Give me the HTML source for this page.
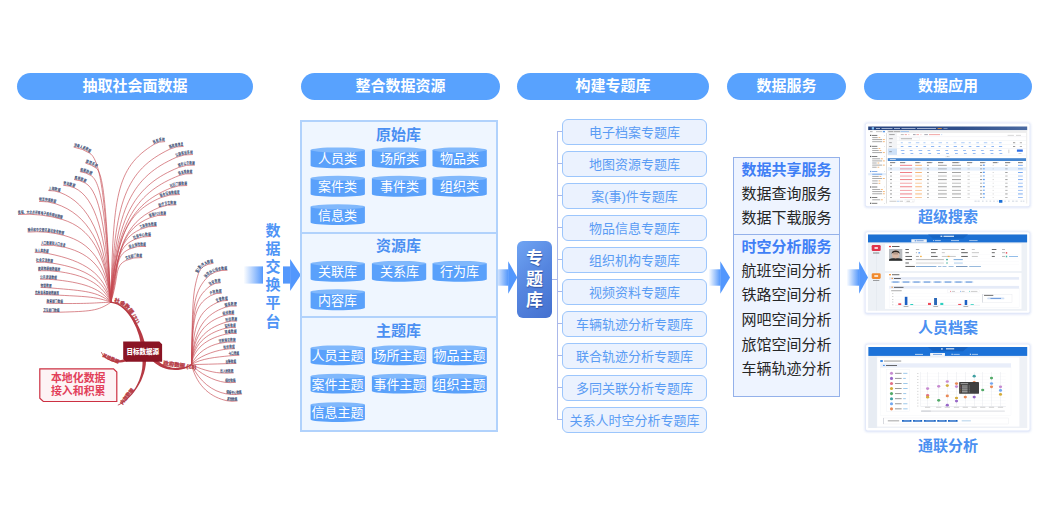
<!DOCTYPE html><html lang="zh-CN"><head><meta charset="utf-8"><title>数据流程</title><style>
*{margin:0;padding:0;box-sizing:border-box}
html,body{width:1043px;height:526px;background:#fff;overflow:hidden}
body{position:relative;font-family:"Liberation Sans", "Noto Sans CJK SC", sans-serif;}
.abs{position:absolute}
.pill{position:absolute;top:73px;height:27px;border-radius:14px;background:#58a2fe;color:#fff;font-weight:700;font-size:15px;line-height:26px;text-align:center;white-space:nowrap}
.box2{position:absolute;left:300px;top:120px;width:198px;height:312px;background:#eff6ff;border:2px solid #b1d2fc}
.div2{position:absolute;left:302px;width:194px;height:2px;background:#b1d2fc}
.t2{position:absolute;left:301px;width:195px;text-align:center;color:#4b8ff2;font-weight:700;font-size:15px;line-height:18px;white-space:nowrap}
.cyl{position:absolute;width:55px;height:21px;color:#fff;font-size:13px;line-height:21px;text-align:center;white-space:nowrap}
.cyl span{position:relative;top:0.5px}
.topic{position:absolute;left:562px;width:145px;height:26px;border:1px solid #9cc6fc;border-radius:6px;background:#ebf2fe;color:#5a9cf4;font-size:13px;line-height:25px;text-align:center;white-space:nowrap}
.stub{position:absolute;left:557px;width:5px;height:1px;background:#aab8ea}
.zt{position:absolute;left:517px;top:240.5px;width:35px;height:77.5px;border-radius:6px;background:linear-gradient(135deg,#6fa4f3 0%,#5585df 50%,#4470cf 100%);color:#fff;font-weight:700;font-size:17px;line-height:21px;text-align:center;padding-top:7px;text-shadow:0.5px 1px 1px rgba(20,40,110,.55)}
.svc{position:absolute;left:733px;top:157px;width:107px;height:240px;background:#eef4ff;border:1px solid #94b1ea}
.svcl{position:absolute;left:734px;width:105px;height:1px;background:#94b1ea}
.sv{position:absolute;left:734px;width:105px;text-align:center;font-size:15px;line-height:20px;color:#262626;white-space:nowrap}
.sv.b{color:#3f7ff6;font-weight:700}
.cap{position:absolute;left:864px;width:168px;text-align:center;color:#4b90f1;font-weight:700;font-size:15px;line-height:18px;white-space:nowrap}
.vt{position:absolute;left:263.3px;top:219.5px;width:19.4px;background:#fff;color:#4f95f6;font-weight:700;font-size:15px;line-height:18.2px;text-align:center;padding:2px 0}
svg{display:block}
</style></head><body>
<svg class="abs" style="left:0;top:0" width="1043" height="526" viewBox="0 0 1043 526"><defs></defs>
<linearGradient id="ga" gradientUnits="userSpaceOnUse" x1="243.5" y1="0" x2="263" y2="0"><stop offset="0" stop-color="#5a9bfb" stop-opacity="0"/><stop offset="1" stop-color="#5498fc" stop-opacity="1"/></linearGradient><rect x="243.5" y="266.4" width="46.90000000000002" height="17.2" fill="url(#ga)"/><polygon points="290.1,259 300.8,275 290.1,291" fill="#5297fd"/>
<linearGradient id="gb" gradientUnits="userSpaceOnUse" x1="494" y1="0" x2="508.2" y2="0"><stop offset="0" stop-color="#5a9bfb" stop-opacity="0"/><stop offset="1" stop-color="#5498fc" stop-opacity="1"/></linearGradient><rect x="494" y="269.3" width="14.49999999999999" height="16.4" fill="url(#gb)"/><polygon points="508.2,261.2 517.3,277.5 508.2,293.8" fill="#5297fd"/>
<linearGradient id="gc" gradientUnits="userSpaceOnUse" x1="708.5" y1="0" x2="720.3" y2="0"><stop offset="0" stop-color="#5a9bfb" stop-opacity="0"/><stop offset="1" stop-color="#5498fc" stop-opacity="1"/></linearGradient><rect x="708.5" y="269.3" width="12.099999999999955" height="16.4" fill="url(#gc)"/><polygon points="720.3,261.2 730,277.5 720.3,293.8" fill="#5297fd"/>
</svg>
<svg class="abs" style="left:0;top:0" width="300" height="440" viewBox="0 0 300 440"><defs><path id="m1" d="M73.6 147.1Q82.6 148.5 89.9 153.3"/><path id="m2" d="M85.4 163.1Q91.5 164.6 96.3 168.2"/><path id="m3" d="M79.9 171.6Q86.1 172.5 91.1 175.6"/><path id="m4" d="M74.1 179.5Q80.3 180.2 85.4 183.1"/><path id="m5" d="M63.3 185.3Q69.3 185.5 74.5 187.9"/><path id="m6" d="M48.4 190.5Q54.4 190.4 59.9 192.4"/><path id="m7" d="M39 201.4Q47.8 201.1 55.8 203.8"/><path id="m8" d="M18.1 214.5Q41.3 213 62.7 219.6"/><path id="m9" d="M27.7 232.1Q46.4 230.6 63.9 235.4"/><path id="m10" d="M40.9 245.2Q53.4 244.4 65.3 247.4"/><path id="m11" d="M34.7 252.5Q41.7 252.3 48.4 253.6"/><path id="m12" d="M36.1 262.3Q44.6 261.8 52.9 263.2"/><path id="m13" d="M38 270.7Q49.3 270.2 60.3 271.8"/><path id="m14" d="M40.1 279.2Q48.5 279 56.9 279.9"/><path id="m15" d="M40.6 287.5Q46.1 287.5 51.6 288"/><path id="m16" d="M34.9 294.5Q47.1 294.6 59.3 295.2"/><path id="m17" d="M46.4 303.2Q54.7 303.4 63.1 303.5"/><path id="m18" d="M43 312Q51.4 312.4 59.8 312.2"/><path id="m19" d="M154.1 144.3Q158.9 141.3 165.1 141.6"/><path id="m20" d="M169.9 149.1Q176.2 146.1 183.6 146.4"/><path id="m21" d="M176.2 157.4Q184 154 192.9 154.5"/><path id="m22" d="M178.6 167.5Q186.2 164.4 194.9 165.1"/><path id="m23" d="M179 175.6Q185.3 173.1 192.5 173.7"/><path id="m24" d="M170.6 188.1Q178.4 184.9 187.2 185.5"/><path id="m25" d="M160.7 197.7Q169.6 193.9 179.9 194.5"/><path id="m26" d="M159.1 207.5Q167.2 204.2 176.4 204.8"/><path id="m27" d="M149.8 217.8Q157.4 214.6 166.1 215.2"/><path id="m28" d="M140.4 229.3Q148 225.8 156.8 226.2"/><path id="m29" d="M134 239.7Q141.9 235.9 151.1 236.4"/><path id="m30" d="M129.5 249Q137.2 245.5 146.1 246.4"/><path id="m31" d="M126.1 260.4Q133.6 256.9 142.3 257.6"/><path id="m32" d="M198.5 273.2Q201.2 264.6 213.6 263.2"/><path id="m33" d="M206.2 278.4Q213.6 269.8 227.5 270.2"/><path id="m34" d="M210.1 286Q214.5 282.6 220.8 282.7"/><path id="m35" d="M210.7 295.6Q215.6 292.8 221.8 293.2"/><path id="m36" d="M216.8 302.7Q221.9 300.2 227.9 300.4"/><path id="m37" d="M225.2 307.3Q230.7 305.4 236.7 306.1"/><path id="m38" d="M223.1 315.9Q228.4 314 234.3 314.6"/><path id="m39" d="M226 322.2Q231.3 320.6 237.1 321.1"/><path id="m40" d="M225.1 328.4Q230.3 327 235.8 327.6"/><path id="m41" d="M225.2 334.3Q230.8 333 236.7 333.5"/><path id="m42" d="M219.1 343.4Q227.3 341.5 235.8 342"/><path id="m43" d="M223.7 349.5Q229.2 348.6 234.8 348.7"/><path id="m44" d="M228.7 355.9Q234 355.3 239.4 355.2"/><path id="m45" d="M225.4 363.7Q230.9 363.6 236.4 363.4"/><path id="m46" d="M220 372.9Q226.8 373.4 233.7 372.9"/><path id="m47" d="M224.9 382.3Q230.3 383 235.8 382.3"/><path id="m48" d="M225.9 393.8Q233.9 395.3 242.1 394"/><path id="m49" d="M226.8 400.7Q232 401.8 237.5 400.9"/></defs><path d="M73.6 147.1Q82.6 148.5 89.9 153.3C102 161.2 106.1 213 110.8 302.2M85.4 163.1Q91.5 164.6 96.3 168.2C104.7 174.5 106.6 221.9 110.8 302.2M79.9 171.6Q86.1 172.5 91.1 175.6C102.5 182.7 106.2 226.4 110.8 302.2M74.1 179.5Q80.3 180.2 85.4 183.1C100.1 191.5 105.8 230.9 110.8 302.2M63.3 185.3Q69.3 185.5 74.5 187.9C95.6 197.7 105.4 233.8 110.8 302.2M48.4 190.5Q54.4 190.4 59.9 192.4C89.4 203.5 105.1 236.6 110.8 302.2M39 201.4Q47.8 201.1 55.8 203.8C87.7 214.6 105.1 243.4 110.8 302.2M18.1 214.5Q41.3 213 62.7 219.6C90.6 228.2 105.6 252.9 110.8 302.2M27.7 232.1Q46.4 230.6 63.9 235.4C91.1 242.8 105.9 262.4 110.8 302.2M40.9 245.2Q53.4 244.4 65.3 247.4C91.7 254.1 105.7 269.7 110.8 302.2M34.7 252.5Q41.7 252.3 48.4 253.6C84.6 260.8 104.7 273.7 110.8 302.2M36.1 262.3Q44.6 261.8 52.9 263.2C86.5 268.7 103.6 279.9 110.8 302.2M38 270.7Q49.3 270.2 60.3 271.8C89.6 276.2 102.5 285.9 110.8 302.2M40.1 279.2Q48.5 279 56.9 279.9C88.2 283.4 100.6 289.6 110.8 302.2M40.6 287.5Q46.1 287.5 51.6 288C85.9 290.9 96.6 291.5 110.8 302.2M34.9 294.5Q47.1 294.6 59.3 295.2C89.2 296.7 96.3 296.9 110.8 302.2M46.4 303.2Q54.7 303.4 63.1 303.5C90.8 303.7 96.5 302.7 110.8 302.2M43 312Q51.4 312.4 59.8 312.2C89.4 311.3 98.4 311.2 110.8 302.2M110.8 302.2C113.5 198 115.1 168.1 154.1 144.3Q158.9 141.3 165.1 141.6M110.8 302.2C114.3 201.2 125.5 170.4 169.9 149.1Q176.2 146.1 183.6 146.4M110.8 302.2C115 206.7 132.6 176.6 176.2 157.4Q184 154 192.9 154.5M110.8 302.2C115.5 213.4 136.7 184.5 178.6 167.5Q186.2 164.4 194.9 165.1M110.8 302.2C115.9 218.8 138.8 191.4 179 175.6Q185.3 173.1 192.5 173.7M110.8 302.2C116.1 227.1 134.8 202.7 170.6 188.1Q178.4 184.9 187.2 185.5M110.8 302.2C116.8 233.5 128.8 211.4 160.7 197.7Q169.6 193.9 179.9 194.5M110.8 302.2C117.3 240 129.6 219.7 159.1 207.5Q167.2 204.2 176.4 204.8M110.8 302.2C118.1 247 124.1 228.7 149.8 217.8Q157.4 214.6 166.1 215.2M110.8 302.2C118.3 254.7 119 239.3 140.4 229.3Q148 225.8 156.8 226.2M110.8 302.2C118.7 261.7 116 248.3 134 239.7Q141.9 235.9 151.1 236.4M110.8 302.2C119.3 268.1 114.1 256 129.5 249Q137.2 245.5 146.1 246.4M110.8 302.2C119.3 276 114 266 126.1 260.4Q133.6 256.9 142.3 257.6M191.5 364.6C192.6 304.3 192.2 293.2 198.5 273.2Q201.2 264.6 213.6 263.2M191.5 364.6C192.5 307.7 193 293.8 206.2 278.4Q213.6 269.8 227.5 270.2M191.5 364.6C192.9 312.7 193.4 298.9 210.1 286Q214.5 282.6 220.8 282.7M191.5 364.6C193.1 319.1 193.4 305.6 210.7 295.6Q215.6 292.8 221.8 293.2M191.5 364.6C193.3 323.8 198.7 311.4 216.8 302.7Q221.9 300.2 227.9 300.4M191.5 364.6C193.5 326.8 206.4 313.9 225.2 307.3Q230.7 305.4 236.7 306.1M191.5 364.6C193.5 332.5 206.7 321.6 223.1 315.9Q228.4 314 234.3 314.6M191.5 364.6C193.5 336.7 210.3 327 226 322.2Q231.3 320.6 237.1 321.1M191.5 364.6C193.6 340.8 210.8 332.2 225.1 328.4Q230.3 327 235.8 327.6M191.5 364.6C194.3 344.8 212 337.5 225.2 334.3Q230.8 333 236.7 333.5M191.5 364.6C197.2 351.8 208.9 345.7 219.1 343.4Q227.3 341.5 235.8 342M191.5 364.6C197.6 356.7 213.2 351.2 223.7 349.5Q229.2 348.6 234.8 348.7M191.5 364.6C200.8 358.4 217.3 357.1 228.7 355.9Q234 355.3 239.4 355.2M191.5 364.6C201.7 364.4 215.2 364 225.4 363.7Q230.9 363.6 236.4 363.4M191.5 364.6C199 368.6 211.1 372.3 220 372.9Q226.8 373.4 233.7 372.9M191.5 364.6C199.3 373.3 213.6 380.9 224.9 382.3Q230.3 383 235.8 382.3M191.5 364.6C199.6 382.1 212.6 391.3 225.9 393.8Q233.9 395.3 242.1 394M191.5 364.6C197.3 387.7 212 397.5 226.8 400.7Q232 401.8 237.5 400.9" fill="none" stroke="#c4474f" stroke-width="0.75" stroke-opacity="0.85"/><g font-family="&quot;Liberation Sans&quot;,&quot;Noto Sans CJK SC&quot;,sans-serif" font-size="4.2" font-weight="700" stroke="#22335f" stroke-width="0.1" stroke-opacity="0.5" fill="#22335f" fill-opacity="0.88"><text dy="-0.55"><textPath href="#m1" textLength="17.3" lengthAdjust="spacingAndGlyphs">涉毒人员数据</textPath></text><text dy="-0.55"><textPath href="#m2" textLength="11.9" lengthAdjust="spacingAndGlyphs">旅馆系统</textPath></text><text dy="-0.55"><textPath href="#m3" textLength="11.8" lengthAdjust="spacingAndGlyphs">船舶数据</textPath></text><text dy="-0.55"><textPath href="#m4" textLength="11.8" lengthAdjust="spacingAndGlyphs">高铁数据</textPath></text><text dy="-0.55"><textPath href="#m5" textLength="11.4" lengthAdjust="spacingAndGlyphs">劳动数据</textPath></text><text dy="-0.55"><textPath href="#m6" textLength="11.6" lengthAdjust="spacingAndGlyphs">上网数据</textPath></text><text dy="-0.55"><textPath href="#m7" textLength="16.8" lengthAdjust="spacingAndGlyphs">物流快递数据</textPath></text><text dy="-0.55"><textPath href="#m8" textLength="44.5" lengthAdjust="spacingAndGlyphs">携程、大众点评等电子商务网站数据</textPath></text><text dy="-0.55"><textPath href="#m9" textLength="36" lengthAdjust="spacingAndGlyphs">腾讯和中交银讯基站信号数据</textPath></text><text dy="-0.55"><textPath href="#m10" textLength="24.2" lengthAdjust="spacingAndGlyphs">人口数据和入口信息</textPath></text><text dy="-0.55"><textPath href="#m11" textLength="13.6" lengthAdjust="spacingAndGlyphs">法人库数据</textPath></text><text dy="-0.55"><textPath href="#m12" textLength="16.6" lengthAdjust="spacingAndGlyphs">社会交流数据</textPath></text><text dy="-0.55"><textPath href="#m13" textLength="22" lengthAdjust="spacingAndGlyphs">建筑物基础数据库</textPath></text><text dy="-0.55"><textPath href="#m14" textLength="16.6" lengthAdjust="spacingAndGlyphs">公共资源数据</textPath></text><text dy="-0.55"><textPath href="#m15" textLength="10.8" lengthAdjust="spacingAndGlyphs">物管数据</textPath></text><text dy="-0.55"><textPath href="#m16" textLength="24" lengthAdjust="spacingAndGlyphs">危急信息基础数据库</textPath></text><text dy="-0.55"><textPath href="#m17" textLength="16.5" lengthAdjust="spacingAndGlyphs">教育部门数据</textPath></text><text dy="-0.55"><textPath href="#m18" textLength="16.6" lengthAdjust="spacingAndGlyphs">卫生部门数据</textPath></text><text dy="-0.55"><textPath href="#m19" textLength="11.3" lengthAdjust="spacingAndGlyphs">民航系统</textPath></text><text dy="-0.55"><textPath href="#m20" textLength="13.9" lengthAdjust="spacingAndGlyphs">路政局信息</textPath></text><text dy="-0.55"><textPath href="#m21" textLength="16.9" lengthAdjust="spacingAndGlyphs">公路客运系统</textPath></text><text dy="-0.55"><textPath href="#m22" textLength="16.4" lengthAdjust="spacingAndGlyphs">城市公交数据</textPath></text><text dy="-0.55"><textPath href="#m23" textLength="13.5" lengthAdjust="spacingAndGlyphs">铁车局数据</textPath></text><text dy="-0.55"><textPath href="#m24" textLength="16.7" lengthAdjust="spacingAndGlyphs">社区门禁数据</textPath></text><text dy="-0.55"><textPath href="#m25" textLength="19.3" lengthAdjust="spacingAndGlyphs">联合征信数据库</textPath></text><text dy="-0.55"><textPath href="#m26" textLength="17.4" lengthAdjust="spacingAndGlyphs">医疗卫生数据</textPath></text><text dy="-0.55"><textPath href="#m27" textLength="16.4" lengthAdjust="spacingAndGlyphs">银联POS数据</textPath></text><text dy="-0.55"><textPath href="#m28" textLength="16.6" lengthAdjust="spacingAndGlyphs">工商税务数据</textPath></text><text dy="-0.55"><textPath href="#m29" textLength="17.3" lengthAdjust="spacingAndGlyphs">社保中心数据</textPath></text><text dy="-0.55"><textPath href="#m30" textLength="16.7" lengthAdjust="spacingAndGlyphs">房企保险数据</textPath></text><text dy="-0.55"><textPath href="#m31" textLength="16.4" lengthAdjust="spacingAndGlyphs">文化部门数据</textPath></text><text dy="-0.55"><textPath href="#m32" textLength="19" lengthAdjust="spacingAndGlyphs">案(事)件大数据</textPath></text><text dy="-0.55"><textPath href="#m33" textLength="23.3" lengthAdjust="spacingAndGlyphs">协同办公综合数据</textPath></text><text dy="-0.55"><textPath href="#m34" textLength="11.2" lengthAdjust="spacingAndGlyphs">治安数据</textPath></text><text dy="-0.55"><textPath href="#m35" textLength="11.4" lengthAdjust="spacingAndGlyphs">户政数据</textPath></text><text dy="-0.55"><textPath href="#m36" textLength="11.3" lengthAdjust="spacingAndGlyphs">交管数据</textPath></text><text dy="-0.55"><textPath href="#m37" textLength="11.5" lengthAdjust="spacingAndGlyphs">国保数据</textPath></text><text dy="-0.55"><textPath href="#m38" textLength="11.2" lengthAdjust="spacingAndGlyphs">经侦数据</textPath></text><text dy="-0.55"><textPath href="#m39" textLength="11.1" lengthAdjust="spacingAndGlyphs">刑侦数据</textPath></text><text dy="-0.55"><textPath href="#m40" textLength="10.6" lengthAdjust="spacingAndGlyphs">监所数据</textPath></text><text dy="-0.55"><textPath href="#m41" textLength="11.4" lengthAdjust="spacingAndGlyphs">禁毒数据</textPath></text><text dy="-0.55"><textPath href="#m42" textLength="16.6" lengthAdjust="spacingAndGlyphs">法制信访数据</textPath></text><text dy="-0.55"><textPath href="#m43" textLength="11" lengthAdjust="spacingAndGlyphs">技侦数据</textPath></text><text dy="-0.55"><textPath href="#m44" textLength="10.6" lengthAdjust="spacingAndGlyphs">卡口数据</textPath></text><text dy="-0.55"><textPath href="#m45" textLength="10.8" lengthAdjust="spacingAndGlyphs">出警数据</textPath></text><text dy="-0.55"><textPath href="#m46" textLength="13.5" lengthAdjust="spacingAndGlyphs">出入境数据</textPath></text><text dy="-0.55"><textPath href="#m47" textLength="10.8" lengthAdjust="spacingAndGlyphs">指纹数据</textPath></text><text dy="-0.55"><textPath href="#m48" textLength="16" lengthAdjust="spacingAndGlyphs">情报中心数据</textPath></text><text dy="-0.55"><textPath href="#m49" textLength="10.6" lengthAdjust="spacingAndGlyphs">其他数据</textPath></text></g><polygon points="144.6,342.1 143.5,338.4 142.2,334.6 140.6,330.8 138.8,326.9 136.9,323.2 134.7,319.5 132.3,316 129.7,312.8 127,309.8 124.1,307.2 121,305.1 117.8,303.3 114.4,302.2 110.9,301.6 110.7,302.8 114,303.4 117.2,304.6 120.2,306.3 123,308.5 125.7,311.1 128.2,314 130.6,317.3 132.7,320.7 134.6,324.4 136.3,328.1 137.7,331.9 139,335.7 139.9,339.4 140.6,342.9" fill="#b63a44"/><polygon points="152.5,360.8 154.8,363 157.4,364.8 160.1,366.4 163,367.7 165.9,368.7 169,369.4 172.1,369.8 175.1,370 178.2,369.9 181.2,369.5 184.1,368.8 186.8,367.9 189.5,366.6 191.9,365.1 191.1,364.1 188.8,365.5 186.3,366.5 183.7,367.3 180.9,367.9 178.1,368.1 175.2,368 172.3,367.7 169.5,367.1 166.7,366.2 164.1,365.1 161.6,363.7 159.3,362.1 157.3,360.3 155.5,358.2" fill="#b63a44"/><polygon points="126.5,358.4 124.3,359.2 122.1,359.8 120,360.2 117.9,360.5 115.9,360.5 113.9,360.4 112,360 110.2,359.5 108.4,358.8 106.8,357.8 105.3,356.7 103.9,355.4 102.7,353.9 101.6,352.1 101,352.5 102.1,354.3 103.3,355.9 104.7,357.4 106.2,358.6 107.9,359.7 109.7,360.6 111.6,361.4 113.6,361.9 115.7,362.3 117.9,362.5 120.2,362.4 122.6,362.2 125,361.8 127.5,361.2" fill="#b63a44"/><polygon points="142.5,360 142.5,364.1 142.2,368.2 141.5,372.2 140.5,376.1 139.2,379.9 137.6,383.5 135.8,387 133.7,390.3 131.4,393.4 128.9,396.3 126.3,398.9 123.5,401.2 120.6,403.3 117.6,405 118,405.6 121,403.9 124,401.9 126.9,399.6 129.7,397 132.3,394.2 134.8,391.1 137.1,387.8 139.2,384.3 141.1,380.7 142.7,376.8 144.1,372.8 145.1,368.7 145.8,364.4 146.1,360" fill="#b63a44"/><g font-family="&quot;Liberation Sans&quot;,&quot;Noto Sans CJK SC&quot;,sans-serif" font-weight="900" fill="#b63a44" stroke="#b63a44" stroke-width="0.25"><path id="tp1" d="M114 302.2C126.5 303 137.5 322 140.5 337" fill="none"/><text font-size="5.4"><textPath href="#tp1" startOffset="0">社会数据 (31)</textPath></text><text font-size="5.5" transform="translate(163 365) rotate(7.5)">政府数据 (18)</text><text font-size="4.4" transform="translate(102.2 356.6) rotate(23)">其他数据</text><text font-size="4.7" transform="translate(122.6 404.8) rotate(-52.5)">内部数据</text></g><polygon points="123.2,341.5 159.3,341.5 162.1,344.3 162.1,361.8 126,361.8 123.2,359" fill="#8a1424"/><text x="142.7" y="354.1" text-anchor="middle" font-family="&quot;Liberation Sans&quot;,&quot;Noto Sans CJK SC&quot;,sans-serif" font-weight="900" font-size="6.5" fill="#fff">目标数据源</text><polygon points="39.8,368.8 113.5,368.8 116.8,372 116.8,401.5 43.3,401.5 39.8,398.2" fill="#fdf3f5" stroke="#cc3042" stroke-width="1.2"/><g font-family="&quot;Liberation Sans&quot;,&quot;Noto Sans CJK SC&quot;,sans-serif" font-weight="700" font-size="10.9" fill="#e2405a" text-anchor="middle"><text x="78.2" y="382.2">本地化数据</text><text x="78.2" y="394.9">接入和积累</text></g></svg>
<div class="pill" style="left:17px;width:236px">抽取社会面数据</div>
<div class="pill" style="left:301px;width:199px">整合数据资源</div>
<div class="pill" style="left:517px;width:192px">构建专题库</div>
<div class="pill" style="left:727px;width:119px">数据服务</div>
<div class="pill" style="left:864px;width:168px">数据应用</div>
<div class="vt">数<br>据<br>交<br>换<br>平<br>台</div>
<div class="box2"></div><div class="div2" style="top:232px"></div><div class="div2" style="top:316px"></div>
<svg class="abs" style="left:0;top:0" width="500" height="440" viewBox="0 0 500 440"><path d="M310.6 149.9 v15.9 c0 1.5 12 2.5 27.15 2.5 s27.15 -1 27.15 -2.5 v-15.9 z" fill="#5aa1fb"/><ellipse cx="337.75" cy="149.9" rx="27.15" ry="2.5" fill="#80b8fc"/><path d="M371.9 149.9 v15.9 c0 1.5 12 2.5 27.15 2.5 s27.15 -1 27.15 -2.5 v-15.9 z" fill="#5aa1fb"/><ellipse cx="399.05" cy="149.9" rx="27.15" ry="2.5" fill="#80b8fc"/><path d="M432.5 149.9 v15.9 c0 1.5 12 2.5 27.15 2.5 s27.15 -1 27.15 -2.5 v-15.9 z" fill="#5aa1fb"/><ellipse cx="459.65" cy="149.9" rx="27.15" ry="2.5" fill="#80b8fc"/><path d="M310.6 178.3 v15.9 c0 1.5 12 2.5 27.15 2.5 s27.15 -1 27.15 -2.5 v-15.9 z" fill="#5aa1fb"/><ellipse cx="337.75" cy="178.3" rx="27.15" ry="2.5" fill="#80b8fc"/><path d="M371.9 178.3 v15.9 c0 1.5 12 2.5 27.15 2.5 s27.15 -1 27.15 -2.5 v-15.9 z" fill="#5aa1fb"/><ellipse cx="399.05" cy="178.3" rx="27.15" ry="2.5" fill="#80b8fc"/><path d="M432.5 178.3 v15.9 c0 1.5 12 2.5 27.15 2.5 s27.15 -1 27.15 -2.5 v-15.9 z" fill="#5aa1fb"/><ellipse cx="459.65" cy="178.3" rx="27.15" ry="2.5" fill="#80b8fc"/><path d="M310.6 206.7 v15.9 c0 1.5 12 2.5 27.15 2.5 s27.15 -1 27.15 -2.5 v-15.9 z" fill="#5aa1fb"/><ellipse cx="337.75" cy="206.7" rx="27.15" ry="2.5" fill="#80b8fc"/><path d="M310.6 263.4 v15.9 c0 1.5 12 2.5 27.15 2.5 s27.15 -1 27.15 -2.5 v-15.9 z" fill="#5aa1fb"/><ellipse cx="337.75" cy="263.4" rx="27.15" ry="2.5" fill="#80b8fc"/><path d="M371.9 263.4 v15.9 c0 1.5 12 2.5 27.15 2.5 s27.15 -1 27.15 -2.5 v-15.9 z" fill="#5aa1fb"/><ellipse cx="399.05" cy="263.4" rx="27.15" ry="2.5" fill="#80b8fc"/><path d="M432.5 263.4 v15.9 c0 1.5 12 2.5 27.15 2.5 s27.15 -1 27.15 -2.5 v-15.9 z" fill="#5aa1fb"/><ellipse cx="459.65" cy="263.4" rx="27.15" ry="2.5" fill="#80b8fc"/><path d="M310.6 291.8 v15.9 c0 1.5 12 2.5 27.15 2.5 s27.15 -1 27.15 -2.5 v-15.9 z" fill="#5aa1fb"/><ellipse cx="337.75" cy="291.8" rx="27.15" ry="2.5" fill="#80b8fc"/><path d="M310.6 347.9 v14.8 c0 1.5 12 2.5 27.15 2.5 s27.15 -1 27.15 -2.5 v-14.8 z" fill="#5aa1fb"/><ellipse cx="337.75" cy="347.9" rx="27.15" ry="2.5" fill="#80b8fc"/><path d="M371.9 347.9 v14.8 c0 1.5 12 2.5 27.15 2.5 s27.15 -1 27.15 -2.5 v-14.8 z" fill="#5aa1fb"/><ellipse cx="399.05" cy="347.9" rx="27.15" ry="2.5" fill="#80b8fc"/><path d="M432.5 347.9 v14.8 c0 1.5 12 2.5 27.15 2.5 s27.15 -1 27.15 -2.5 v-14.8 z" fill="#5aa1fb"/><ellipse cx="459.65" cy="347.9" rx="27.15" ry="2.5" fill="#80b8fc"/><path d="M310.6 376.3 v14.8 c0 1.5 12 2.5 27.15 2.5 s27.15 -1 27.15 -2.5 v-14.8 z" fill="#5aa1fb"/><ellipse cx="337.75" cy="376.3" rx="27.15" ry="2.5" fill="#80b8fc"/><path d="M371.9 376.3 v14.8 c0 1.5 12 2.5 27.15 2.5 s27.15 -1 27.15 -2.5 v-14.8 z" fill="#5aa1fb"/><ellipse cx="399.05" cy="376.3" rx="27.15" ry="2.5" fill="#80b8fc"/><path d="M432.5 376.3 v14.8 c0 1.5 12 2.5 27.15 2.5 s27.15 -1 27.15 -2.5 v-14.8 z" fill="#5aa1fb"/><ellipse cx="459.65" cy="376.3" rx="27.15" ry="2.5" fill="#80b8fc"/><path d="M310.6 404.7 v14.8 c0 1.5 12 2.5 27.15 2.5 s27.15 -1 27.15 -2.5 v-14.8 z" fill="#5aa1fb"/><ellipse cx="337.75" cy="404.7" rx="27.15" ry="2.5" fill="#80b8fc"/></svg>
<div class="t2" style="top:125.6px">原始库</div>
<div class="cyl" style="left:310px;top:147.3px"><span>人员类</span></div>
<div class="cyl" style="left:372px;top:147.3px"><span>场所类</span></div>
<div class="cyl" style="left:432px;top:147.3px"><span>物品类</span></div>
<div class="cyl" style="left:310px;top:175.7px"><span>案件类</span></div>
<div class="cyl" style="left:372px;top:175.7px"><span>事件类</span></div>
<div class="cyl" style="left:432px;top:175.7px"><span>组织类</span></div>
<div class="cyl" style="left:310px;top:204.1px"><span>信息类</span></div>
<div class="t2" style="top:237px">资源库</div>
<div class="cyl" style="left:310px;top:260.8px"><span>关联库</span></div>
<div class="cyl" style="left:372px;top:260.8px"><span>关系库</span></div>
<div class="cyl" style="left:432px;top:260.8px"><span>行为库</span></div>
<div class="cyl" style="left:310px;top:289.2px"><span>内容库</span></div>
<div class="t2" style="top:321.5px">主题库</div>
<div class="cyl" style="left:310px;top:344.8px"><span>人员主题</span></div>
<div class="cyl" style="left:372px;top:344.8px"><span>场所主题</span></div>
<div class="cyl" style="left:432px;top:344.8px"><span>物品主题</span></div>
<div class="cyl" style="left:310px;top:373.2px"><span>案件主题</span></div>
<div class="cyl" style="left:372px;top:373.2px"><span>事件主题</span></div>
<div class="cyl" style="left:432px;top:373.2px"><span>组织主题</span></div>
<div class="cyl" style="left:310px;top:401.6px"><span>信息主题</span></div>
<div class="abs" style="left:557px;top:131px;width:1px;height:289px;background:#aab8ea"></div>
<div class="abs" style="left:552px;top:279px;width:5px;height:1px;background:#aab8ea"></div>
<div class="stub" style="top:131px"></div>
<div class="topic" style="top:119px">电子档案专题库</div>
<div class="stub" style="top:163px"></div>
<div class="topic" style="top:151px">地图资源专题库</div>
<div class="stub" style="top:195px"></div>
<div class="topic" style="top:183px">案(事)件专题库</div>
<div class="stub" style="top:227px"></div>
<div class="topic" style="top:215px">物品信息专题库</div>
<div class="stub" style="top:259px"></div>
<div class="topic" style="top:247px">组织机构专题库</div>
<div class="stub" style="top:291px"></div>
<div class="topic" style="top:279px">视频资料专题库</div>
<div class="stub" style="top:323px"></div>
<div class="topic" style="top:311px">车辆轨迹分析专题库</div>
<div class="stub" style="top:355px"></div>
<div class="topic" style="top:343px">联合轨迹分析专题库</div>
<div class="stub" style="top:387px"></div>
<div class="topic" style="top:375px">多同关联分析专题库</div>
<div class="stub" style="top:419px"></div>
<div class="topic" style="top:407px">关系人时空分析专题库</div>
<div class="zt">专<br>题<br>库</div>
<div class="svc"></div><div class="svcl" style="top:234px"></div>
<div class="sv b" style="top:159.7px">数据共享服务</div>
<div class="sv" style="top:183.9px">数据查询服务</div>
<div class="sv" style="top:208.1px">数据下载服务</div>
<div class="sv b" style="top:236.7px">时空分析服务</div>
<div class="sv" style="top:261.1px">航班空间分析</div>
<div class="sv" style="top:285.1px">铁路空间分析</div>
<div class="sv" style="top:310.1px">网吧空间分析</div>
<div class="sv" style="top:334.9px">旅馆空间分析</div>
<div class="sv" style="top:358.8px">车辆轨迹分析</div>
<svg class="abs" style="left:860px;top:118px" width="183" height="320" viewBox="860 118 183 320"><defs><filter id="fglow" x="-10%" y="-10%" width="120%" height="120%"><feGaussianBlur stdDeviation="1.1"/></filter><filter id="soft" x="-2%" y="-2%" width="104%" height="104%"><feGaussianBlur stdDeviation="0.33"/></filter><linearGradient id="h1" x1="0" y1="0" x2="1" y2="0"><stop offset="0" stop-color="#27437f"/><stop offset="0.6" stop-color="#2f4f8c"/><stop offset="1" stop-color="#4a6aa2"/></linearGradient></defs><rect x="864.6" y="122.6" width="166.1" height="85.2" fill="#c3d0f3" opacity="0.62" rx="2.5" filter="url(#fglow)"/><rect x="865.8" y="123.6" width="163.7" height="82.6" fill="#ffffff" rx="1.6"/><g filter="url(#soft)"><rect x="868.2" y="126.5" width="159" height="3.7" fill="url(#h1)"/><rect x="871.8" y="127.2" width="2.2" height="2.3" fill="#7fc0f5"/><rect x="876" y="128" width="4" height="0.9" fill="#dfe8f7" opacity="0.75"/><rect x="881.5" y="128" width="11" height="0.9" fill="#dfe8f7" opacity="0.75"/><rect x="894" y="128" width="6" height="0.9" fill="#dfe8f7" opacity="0.75"/><rect x="901.5" y="128" width="14" height="0.9" fill="#dfe8f7" opacity="0.75"/><rect x="917" y="128" width="19" height="0.9" fill="#dfe8f7" opacity="0.75"/><rect x="937.6" y="128" width="4.2" height="0.9" fill="#f0a040" opacity="0.9"/><rect x="943.5" y="128" width="4" height="0.9" fill="#dfe8f7" opacity="0.5"/><rect x="868.2" y="130.3" width="159" height="2.6" fill="#eeeeee"/><rect x="868.2" y="130.3" width="19" height="2.6" fill="#ffffff"/><rect x="870" y="131.2" width="2.6" height="0.9" fill="#777" opacity="0.6"/><rect x="876" y="131.2" width="6" height="0.9" fill="#888" opacity="0.55"/><rect x="882.8" y="130.9" width="2.2" height="1.4" fill="#4a90e8" opacity="0.9"/><rect x="888.3" y="131.2" width="5" height="0.9" fill="#666" opacity="0.6"/><rect x="894" y="131.2" width="6" height="0.9" fill="#666" opacity="0.55"/><rect x="900.5" y="131.2" width="8.5" height="0.9" fill="#6fa8ec" opacity="0.7"/><rect x="886" y="133" width="0.9" height="70.5" fill="#dcdcdc"/><rect x="870" y="134.8" width="1.2" height="1.2" fill="#333" opacity="0.8"/><rect x="871.8" y="134.95" width="5.5" height="0.9" fill="#333" opacity="0.7"/><rect x="884" y="135.1" width="0.8" height="0.6" fill="#999" opacity="0.5"/><rect x="872.2" y="137.15" width="5.5" height="0.9" fill="#555" opacity="0.55"/><rect x="878.5" y="137.15" width="1.8" height="0.9" fill="#f5a04a" opacity="0.8"/><rect x="872.2" y="139.15" width="10" height="0.9" fill="#555" opacity="0.55"/><rect x="883" y="139.15" width="1.8" height="0.9" fill="#f5a04a" opacity="0.8"/><rect x="872.2" y="141.25" width="10" height="0.9" fill="#555" opacity="0.55"/><rect x="883" y="141.25" width="1.8" height="0.9" fill="#f5a04a" opacity="0.8"/><rect x="870" y="145.7" width="1.2" height="1.2" fill="#333" opacity="0.8"/><rect x="871.8" y="145.85" width="5.5" height="0.9" fill="#333" opacity="0.7"/><rect x="884" y="146" width="0.8" height="0.6" fill="#999" opacity="0.5"/><rect x="872.2" y="148.05" width="5.5" height="0.9" fill="#555" opacity="0.55"/><rect x="878.5" y="148.05" width="1.8" height="0.9" fill="#f5a04a" opacity="0.8"/><rect x="872.2" y="150.05" width="6.5" height="0.9" fill="#555" opacity="0.55"/><rect x="879.5" y="150.05" width="1.8" height="0.9" fill="#f5a04a" opacity="0.8"/><rect x="872.2" y="152.15" width="10" height="0.9" fill="#555" opacity="0.55"/><rect x="883" y="152.15" width="1.8" height="0.9" fill="#f5a04a" opacity="0.8"/><rect x="870" y="155.9" width="1.2" height="1.2" fill="#333" opacity="0.8"/><rect x="871.8" y="156.05" width="5.5" height="0.9" fill="#333" opacity="0.7"/><rect x="884" y="156.2" width="0.8" height="0.6" fill="#999" opacity="0.5"/><rect x="872.2" y="158.35" width="8" height="0.9" fill="#555" opacity="0.55"/><rect x="881" y="158.35" width="1.8" height="0.9" fill="#f5a04a" opacity="0.8"/><rect x="872.2" y="160.45" width="10" height="0.9" fill="#555" opacity="0.55"/><rect x="883" y="160.45" width="1.8" height="0.9" fill="#f5a04a" opacity="0.8"/><rect x="872.2" y="162.55" width="4.5" height="0.9" fill="#555" opacity="0.55"/><rect x="877.5" y="162.55" width="1.8" height="0.9" fill="#f5a04a" opacity="0.8"/><rect x="872.2" y="164.65" width="10" height="0.9" fill="#555" opacity="0.55"/><rect x="883" y="164.65" width="1.8" height="0.9" fill="#f5a04a" opacity="0.8"/><rect x="872.2" y="166.75" width="4.5" height="0.9" fill="#555" opacity="0.55"/><rect x="877.5" y="166.75" width="1.8" height="0.9" fill="#f5a04a" opacity="0.8"/><rect x="870" y="170.9" width="1.2" height="1.2" fill="#3f7fd8" opacity="0.8"/><rect x="871.8" y="171.05" width="5.5" height="0.9" fill="#3f7fd8" opacity="0.7"/><rect x="884" y="171.2" width="0.8" height="0.6" fill="#999" opacity="0.5"/><rect x="868.2" y="173.1" width="17.8" height="2.2" fill="#e4eefb"/><rect x="872.2" y="173.75" width="10" height="0.9" fill="#4a8ae0" opacity="0.75"/><rect x="872.2" y="175.95" width="6.5" height="0.9" fill="#555" opacity="0.55"/><rect x="879.5" y="175.95" width="1.8" height="0.9" fill="#f5a04a" opacity="0.8"/><rect x="872.2" y="178.05" width="10" height="0.9" fill="#555" opacity="0.55"/><rect x="883" y="178.05" width="1.8" height="0.9" fill="#f5a04a" opacity="0.8"/><rect x="872.2" y="180.45" width="5.5" height="0.9" fill="#555" opacity="0.55"/><rect x="878.5" y="180.45" width="1.8" height="0.9" fill="#f5a04a" opacity="0.8"/><rect x="872.2" y="182.85" width="5.5" height="0.9" fill="#555" opacity="0.55"/><rect x="878.5" y="182.85" width="1.8" height="0.9" fill="#f5a04a" opacity="0.8"/><rect x="870" y="186.4" width="1.2" height="1.2" fill="#333" opacity="0.8"/><rect x="871.8" y="186.55" width="5.5" height="0.9" fill="#333" opacity="0.7"/><rect x="884" y="186.7" width="0.8" height="0.6" fill="#999" opacity="0.5"/><rect x="872.2" y="189.05" width="8" height="0.9" fill="#555" opacity="0.55"/><rect x="881" y="189.05" width="1.8" height="0.9" fill="#f5a04a" opacity="0.8"/><rect x="872.2" y="191.15" width="10" height="0.9" fill="#555" opacity="0.55"/><rect x="883" y="191.15" width="1.8" height="0.9" fill="#f5a04a" opacity="0.8"/><rect x="872.2" y="193.35" width="10" height="0.9" fill="#555" opacity="0.55"/><rect x="883" y="193.35" width="1.8" height="0.9" fill="#f5a04a" opacity="0.8"/><rect x="870" y="196.9" width="1.2" height="1.2" fill="#333" opacity="0.8"/><rect x="871.8" y="197.05" width="5.5" height="0.9" fill="#333" opacity="0.7"/><rect x="884" y="197.2" width="0.8" height="0.6" fill="#999" opacity="0.5"/><rect x="872.2" y="199.35" width="8" height="0.9" fill="#555" opacity="0.55"/><rect x="881" y="199.35" width="1.8" height="0.9" fill="#f5a04a" opacity="0.8"/><rect x="870" y="202.7" width="1.2" height="1.2" fill="#333" opacity="0.8"/><rect x="871.8" y="202.85" width="5.5" height="0.9" fill="#333" opacity="0.7"/><rect x="884" y="203" width="0.8" height="0.6" fill="#999" opacity="0.5"/><rect x="887.8" y="136.7" width="138.4" height="0.35" fill="#e6e9ee"/><rect x="887.8" y="140.6" width="138.4" height="0.35" fill="#e6e9ee"/><rect x="887.8" y="144.6" width="138.4" height="0.35" fill="#e6e9ee"/><rect x="887.8" y="148.4" width="138.4" height="0.35" fill="#e6e9ee"/><rect x="887.8" y="154.9" width="138.4" height="0.35" fill="#e6e9ee"/><rect x="887.8" y="133" width="9.2" height="22" fill="#f3f4f6"/><rect x="887.8" y="148.5" width="9.2" height="6.3" fill="#cfe2f8"/><rect x="889.2" y="134.15" width="5.5" height="0.9" fill="#555" opacity="0.55"/><rect x="889.2" y="138.25" width="3.6" height="0.9" fill="#555" opacity="0.55"/><rect x="889.2" y="142.25" width="2.6" height="0.9" fill="#555" opacity="0.55"/><rect x="889.2" y="146.05" width="2.6" height="0.9" fill="#555" opacity="0.55"/><rect x="889.2" y="151.25" width="2.6" height="0.9" fill="#555" opacity="0.55"/><rect x="900.8" y="134.1" width="3" height="1" fill="#777" opacity="0.5"/><rect x="904.7" y="134.1" width="2.2" height="1" fill="#e86a6a" opacity="0.6"/><rect x="908" y="134.1" width="1.5" height="1" fill="#e9a0a0" opacity="0.5"/><rect x="913" y="134.1" width="2.6" height="1" fill="#667" opacity="0.6"/><rect x="916.4" y="134.1" width="2.6" height="1" fill="#e86a6a" opacity="0.55"/><rect x="920.3" y="134.1" width="1.2" height="1" fill="#e9a0a0" opacity="0.5"/><rect x="924.3" y="134.1" width="3.6" height="1" fill="#667" opacity="0.55"/><rect x="929" y="134.1" width="11" height="1" fill="#e86a6a" opacity="0.6"/><rect x="941" y="134.1" width="1.2" height="1" fill="#a9c4f0" opacity="0.6"/><rect x="1007.6" y="134.9" width="6.3" height="0.8" fill="#888" opacity="0.4"/><rect x="1016" y="134.9" width="5" height="0.8" fill="#888" opacity="0.4"/><rect x="899.8" y="137.4" width="19.5" height="2.7" fill="#fff" stroke="#e3e5ea" stroke-width="0.3"/><rect x="900.8" y="138.3" width="11.2" height="0.9" fill="#555" opacity="0.5"/><rect x="900.8" y="142.3" width="2" height="0.9" fill="#5c9bf0" opacity="0.55"/><rect x="900.8" y="146.1" width="2.6" height="0.9" fill="#4a8cec" opacity="0.7"/><rect x="908.35" y="142.3" width="2.7" height="0.9" fill="#5c9bf0" opacity="0.55"/><rect x="908.35" y="146.1" width="3.2" height="0.9" fill="#4a8cec" opacity="0.7"/><rect x="915.9" y="142.3" width="3.4" height="0.9" fill="#5c9bf0" opacity="0.55"/><rect x="915.9" y="146.1" width="2" height="0.9" fill="#4a8cec" opacity="0.7"/><rect x="923.45" y="142.3" width="2" height="0.9" fill="#5c9bf0" opacity="0.55"/><rect x="923.45" y="146.1" width="2.6" height="0.9" fill="#4a8cec" opacity="0.7"/><rect x="931" y="142.3" width="2.7" height="0.9" fill="#5c9bf0" opacity="0.55"/><rect x="931" y="146.1" width="3.2" height="0.9" fill="#4a8cec" opacity="0.7"/><rect x="938.55" y="142.3" width="3.4" height="0.9" fill="#5c9bf0" opacity="0.55"/><rect x="938.55" y="146.1" width="2" height="0.9" fill="#4a8cec" opacity="0.7"/><rect x="946.1" y="142.3" width="2" height="0.9" fill="#5c9bf0" opacity="0.55"/><rect x="946.1" y="146.1" width="2.6" height="0.9" fill="#4a8cec" opacity="0.7"/><rect x="953.65" y="142.3" width="2.7" height="0.9" fill="#5c9bf0" opacity="0.55"/><rect x="953.65" y="146.1" width="3.2" height="0.9" fill="#4a8cec" opacity="0.7"/><rect x="961.2" y="142.3" width="3.4" height="0.9" fill="#5c9bf0" opacity="0.55"/><rect x="961.2" y="146.1" width="2" height="0.9" fill="#4a8cec" opacity="0.7"/><rect x="968.75" y="142.3" width="2" height="0.9" fill="#5c9bf0" opacity="0.55"/><rect x="968.75" y="146.1" width="2.6" height="0.9" fill="#4a8cec" opacity="0.7"/><rect x="976.3" y="142.3" width="2.7" height="0.9" fill="#5c9bf0" opacity="0.55"/><rect x="976.3" y="146.1" width="3.2" height="0.9" fill="#4a8cec" opacity="0.7"/><rect x="983.85" y="142.3" width="3.4" height="0.9" fill="#5c9bf0" opacity="0.55"/><rect x="983.85" y="146.1" width="2" height="0.9" fill="#4a8cec" opacity="0.7"/><rect x="991.4" y="142.3" width="2" height="0.9" fill="#5c9bf0" opacity="0.55"/><rect x="991.4" y="146.1" width="2.6" height="0.9" fill="#4a8cec" opacity="0.7"/><rect x="998.95" y="142.3" width="2.7" height="0.9" fill="#5c9bf0" opacity="0.55"/><rect x="998.95" y="146.1" width="3.2" height="0.9" fill="#4a8cec" opacity="0.7"/><rect x="1013" y="142.3" width="2.2" height="0.9" fill="#444" opacity="0.6"/><rect x="1019.8" y="142.3" width="2.2" height="0.9" fill="#444" opacity="0.45"/><rect x="1013" y="146.1" width="2.2" height="0.9" fill="#444" opacity="0.6"/><rect x="1019.8" y="146.1" width="2.2" height="0.9" fill="#444" opacity="0.45"/><rect x="900.8" y="150" width="3.6" height="0.9" fill="#4a8cec" opacity="0.65"/><rect x="901.6" y="153" width="2.8" height="0.9" fill="#4a8cec" opacity="0.65"/><rect x="909.7" y="150" width="2.8" height="0.9" fill="#4a8cec" opacity="0.65"/><rect x="910.5" y="153" width="2.8" height="0.9" fill="#4a8cec" opacity="0.65"/><rect x="918.6" y="150" width="3.6" height="0.9" fill="#4a8cec" opacity="0.65"/><rect x="919.4" y="153" width="2.8" height="0.9" fill="#4a8cec" opacity="0.65"/><rect x="927.5" y="150" width="2.8" height="0.9" fill="#4a8cec" opacity="0.65"/><rect x="928.3" y="153" width="2.8" height="0.9" fill="#4a8cec" opacity="0.65"/><rect x="936.4" y="150" width="3.6" height="0.9" fill="#4a8cec" opacity="0.65"/><rect x="937.2" y="153" width="2.8" height="0.9" fill="#4a8cec" opacity="0.65"/><rect x="945.3" y="150" width="2.8" height="0.9" fill="#4a8cec" opacity="0.65"/><rect x="946.1" y="153" width="2.8" height="0.9" fill="#4a8cec" opacity="0.65"/><rect x="954.2" y="150" width="3.6" height="0.9" fill="#4a8cec" opacity="0.65"/><rect x="955" y="153" width="2.8" height="0.9" fill="#4a8cec" opacity="0.65"/><rect x="963.1" y="150" width="2.8" height="0.9" fill="#4a8cec" opacity="0.65"/><rect x="963.9" y="153" width="2.8" height="0.9" fill="#4a8cec" opacity="0.65"/><rect x="972" y="150" width="3.6" height="0.9" fill="#4a8cec" opacity="0.65"/><rect x="972.8" y="153" width="2.8" height="0.9" fill="#4a8cec" opacity="0.65"/><rect x="980.9" y="150" width="2.8" height="0.9" fill="#4a8cec" opacity="0.65"/><rect x="981.7" y="153" width="2.8" height="0.9" fill="#4a8cec" opacity="0.65"/><rect x="989.8" y="150" width="3.6" height="0.9" fill="#4a8cec" opacity="0.65"/><rect x="990.6" y="153" width="2.8" height="0.9" fill="#4a8cec" opacity="0.65"/><rect x="998.7" y="150" width="2.8" height="0.9" fill="#4a8cec" opacity="0.65"/><rect x="999.5" y="153" width="2.8" height="0.9" fill="#4a8cec" opacity="0.65"/><rect x="1008.2" y="149.6" width="1.2" height="3.6" fill="#999" opacity="0.35"/><rect x="1016.9" y="149.4" width="5.9" height="2.3" fill="#2f6fe8" rx="0.3"/><rect x="1018.5" y="153" width="3" height="0.8" fill="#888" opacity="0.45"/><rect x="945.5" y="156.1" width="4.5" height="1.1" fill="#ddd" opacity="0.7"/><rect x="947.2" y="156.3" width="1.2" height="0.7" fill="#777" opacity="0.6"/><rect x="887.8" y="158.2" width="138.3" height="2.8" fill="#4384cf"/><rect x="889.8" y="159.2" width="6" height="0.8" fill="#fff" opacity="0.8"/><rect x="890" y="162.2" width="5" height="0.9" fill="#333" opacity="0.7"/><rect x="895.4" y="162.3" width="0.7" height="0.7" fill="#4a90e8" opacity="0.7"/><rect x="900" y="162.2" width="5" height="0.9" fill="#333" opacity="0.7"/><rect x="905.4" y="162.3" width="0.7" height="0.7" fill="#4a90e8" opacity="0.7"/><rect x="915.2" y="162.2" width="4.5" height="0.9" fill="#333" opacity="0.7"/><rect x="920.1" y="162.3" width="0.7" height="0.7" fill="#4a90e8" opacity="0.7"/><rect x="926.8" y="162.2" width="5" height="0.9" fill="#333" opacity="0.7"/><rect x="932.2" y="162.3" width="0.7" height="0.7" fill="#4a90e8" opacity="0.7"/><rect x="938" y="162.2" width="5" height="0.9" fill="#333" opacity="0.7"/><rect x="943.4" y="162.3" width="0.7" height="0.7" fill="#4a90e8" opacity="0.7"/><rect x="952.3" y="162.2" width="6.4" height="0.9" fill="#333" opacity="0.7"/><rect x="959.1" y="162.3" width="0.7" height="0.7" fill="#4a90e8" opacity="0.7"/><rect x="967" y="162.2" width="5" height="0.9" fill="#333" opacity="0.7"/><rect x="972.4" y="162.3" width="0.7" height="0.7" fill="#4a90e8" opacity="0.7"/><rect x="980" y="162.2" width="4.8" height="0.9" fill="#333" opacity="0.7"/><rect x="985.2" y="162.3" width="0.7" height="0.7" fill="#4a90e8" opacity="0.7"/><rect x="992.8" y="162.2" width="4.7" height="0.9" fill="#333" opacity="0.7"/><rect x="997.9" y="162.3" width="0.7" height="0.7" fill="#4a90e8" opacity="0.7"/><rect x="1005" y="162.2" width="5" height="0.9" fill="#333" opacity="0.7"/><rect x="1010.4" y="162.3" width="0.7" height="0.7" fill="#4a90e8" opacity="0.7"/><rect x="1018" y="162.2" width="4.8" height="0.9" fill="#333" opacity="0.7"/><rect x="887.8" y="167.05" width="138.3" height="0.25" fill="#eceef2"/><rect x="890" y="164.85" width="2" height="0.9" fill="#444" opacity="0.6"/><rect x="900" y="164.85" width="12.1" height="0.9" fill="#e8505a" opacity="0.8"/><rect x="915.2" y="164.85" width="6.7" height="0.9" fill="#f5a052" opacity="0.85"/><rect x="927" y="164.85" width="1.9" height="0.9" fill="#444" opacity="0.6"/><rect x="938" y="164.85" width="8.8" height="0.9" fill="#444" opacity="0.55"/><rect x="952" y="164.85" width="9" height="0.9" fill="#444" opacity="0.55"/><rect x="967.5" y="164.85" width="2.3" height="0.9" fill="#666" opacity="0.4"/><rect x="980" y="164.85" width="2.1" height="0.9" fill="#333" opacity="0.6"/><rect x="982.9" y="164.55" width="1.9" height="1.3" fill="#3f8cf0" opacity="0.85"/><rect x="992.6" y="164.85" width="1.2" height="0.9" fill="#777" opacity="0.35"/><rect x="1005.2" y="164.85" width="2.4" height="0.9" fill="#444" opacity="0.55"/><rect x="1018" y="164.85" width="4.8" height="0.9" fill="#4a8cec" opacity="0.8"/><rect x="887.8" y="167.13" width="138.3" height="3.5" fill="#e6f0fc"/><rect x="890" y="168.43" width="2" height="0.9" fill="#444" opacity="0.432"/><rect x="900" y="168.43" width="12.1" height="0.9" fill="#e8505a" opacity="0.576"/><rect x="915.2" y="168.43" width="6.7" height="0.9" fill="#f5a052" opacity="0.612"/><rect x="927" y="168.43" width="1.9" height="0.9" fill="#444" opacity="0.432"/><rect x="938" y="168.43" width="8.8" height="0.9" fill="#444" opacity="0.396"/><rect x="952" y="168.43" width="9" height="0.9" fill="#444" opacity="0.396"/><rect x="967.5" y="168.43" width="2.3" height="0.9" fill="#666" opacity="0.288"/><rect x="980" y="168.43" width="2.1" height="0.9" fill="#333" opacity="0.432"/><rect x="982.9" y="168.13" width="1.9" height="1.3" fill="#3f8cf0" opacity="0.612"/><rect x="992.6" y="168.43" width="1.2" height="0.9" fill="#777" opacity="0.252"/><rect x="1005.2" y="168.43" width="2.4" height="0.9" fill="#444" opacity="0.396"/><rect x="1018" y="168.43" width="4.8" height="0.9" fill="#4a8cec" opacity="0.576"/><rect x="887.8" y="174.21" width="138.3" height="0.25" fill="#eceef2"/><rect x="890" y="172.01" width="2" height="0.9" fill="#444" opacity="0.6"/><rect x="900" y="172.01" width="12.1" height="0.9" fill="#e8505a" opacity="0.8"/><rect x="915.2" y="172.01" width="6.7" height="0.9" fill="#f5a052" opacity="0.85"/><rect x="927" y="172.01" width="1.9" height="0.9" fill="#444" opacity="0.6"/><rect x="938" y="172.01" width="8.8" height="0.9" fill="#444" opacity="0.55"/><rect x="952" y="172.01" width="9" height="0.9" fill="#444" opacity="0.55"/><rect x="967.5" y="172.01" width="2.3" height="0.9" fill="#666" opacity="0.4"/><rect x="980" y="172.01" width="2.1" height="0.9" fill="#333" opacity="0.6"/><rect x="982.9" y="171.71" width="1.9" height="1.3" fill="#3f8cf0" opacity="0.85"/><rect x="992.6" y="172.01" width="1.2" height="0.9" fill="#777" opacity="0.35"/><rect x="1005.2" y="172.01" width="2.4" height="0.9" fill="#444" opacity="0.55"/><rect x="1018" y="172.01" width="4.8" height="0.9" fill="#4a8cec" opacity="0.8"/><rect x="887.8" y="177.79" width="138.3" height="0.25" fill="#eceef2"/><rect x="890" y="175.59" width="2" height="0.9" fill="#444" opacity="0.432"/><rect x="900" y="175.59" width="12.1" height="0.9" fill="#e8505a" opacity="0.576"/><rect x="915.2" y="175.59" width="6.7" height="0.9" fill="#f5a052" opacity="0.612"/><rect x="927" y="175.59" width="1.9" height="0.9" fill="#444" opacity="0.432"/><rect x="938" y="175.59" width="8.8" height="0.9" fill="#444" opacity="0.396"/><rect x="952" y="175.59" width="9" height="0.9" fill="#444" opacity="0.396"/><rect x="967.5" y="175.59" width="2.3" height="0.9" fill="#666" opacity="0.288"/><rect x="980" y="175.59" width="2.1" height="0.9" fill="#333" opacity="0.432"/><rect x="982.9" y="175.29" width="1.9" height="1.3" fill="#3f8cf0" opacity="0.612"/><rect x="992.6" y="175.59" width="1.2" height="0.9" fill="#777" opacity="0.252"/><rect x="1005.2" y="175.59" width="2.4" height="0.9" fill="#444" opacity="0.396"/><rect x="1018" y="175.59" width="4.8" height="0.9" fill="#4a8cec" opacity="0.576"/><rect x="887.8" y="181.37" width="138.3" height="0.25" fill="#eceef2"/><rect x="890" y="179.17" width="2" height="0.9" fill="#444" opacity="0.6"/><rect x="900" y="179.17" width="12.1" height="0.9" fill="#e8505a" opacity="0.8"/><rect x="915.2" y="179.17" width="6.7" height="0.9" fill="#f5a052" opacity="0.85"/><rect x="927" y="179.17" width="1.9" height="0.9" fill="#444" opacity="0.6"/><rect x="938" y="179.17" width="8.8" height="0.9" fill="#444" opacity="0.55"/><rect x="952" y="179.17" width="9" height="0.9" fill="#444" opacity="0.55"/><rect x="967.5" y="179.17" width="2.3" height="0.9" fill="#666" opacity="0.4"/><rect x="980" y="179.17" width="2.1" height="0.9" fill="#333" opacity="0.6"/><rect x="982.9" y="178.87" width="1.9" height="1.3" fill="#3f8cf0" opacity="0.85"/><rect x="992.6" y="179.17" width="1.2" height="0.9" fill="#777" opacity="0.35"/><rect x="1005.2" y="179.17" width="2.4" height="0.9" fill="#444" opacity="0.55"/><rect x="1018" y="179.17" width="4.8" height="0.9" fill="#4a8cec" opacity="0.8"/><rect x="887.8" y="184.95" width="138.3" height="0.25" fill="#eceef2"/><rect x="890" y="182.75" width="2" height="0.9" fill="#444" opacity="0.432"/><rect x="900" y="182.75" width="12.1" height="0.9" fill="#e8505a" opacity="0.576"/><rect x="915.2" y="182.75" width="6.7" height="0.9" fill="#f5a052" opacity="0.612"/><rect x="927" y="182.75" width="1.9" height="0.9" fill="#444" opacity="0.432"/><rect x="938" y="182.75" width="8.8" height="0.9" fill="#444" opacity="0.396"/><rect x="952" y="182.75" width="9" height="0.9" fill="#444" opacity="0.396"/><rect x="967.5" y="182.75" width="2.3" height="0.9" fill="#666" opacity="0.288"/><rect x="980" y="182.75" width="2.1" height="0.9" fill="#333" opacity="0.432"/><rect x="982.9" y="182.45" width="1.9" height="1.3" fill="#3f8cf0" opacity="0.612"/><rect x="992.6" y="182.75" width="1.2" height="0.9" fill="#777" opacity="0.252"/><rect x="1005.2" y="182.75" width="2.4" height="0.9" fill="#444" opacity="0.396"/><rect x="1018" y="182.75" width="4.8" height="0.9" fill="#4a8cec" opacity="0.576"/><rect x="887.8" y="188.53" width="138.3" height="0.25" fill="#eceef2"/><rect x="890" y="186.33" width="2" height="0.9" fill="#444" opacity="0.6"/><rect x="900" y="186.33" width="12.1" height="0.9" fill="#e8505a" opacity="0.8"/><rect x="915.2" y="186.33" width="6.7" height="0.9" fill="#f5a052" opacity="0.85"/><rect x="927" y="186.33" width="1.9" height="0.9" fill="#444" opacity="0.6"/><rect x="938" y="186.33" width="8.8" height="0.9" fill="#444" opacity="0.55"/><rect x="952" y="186.33" width="9" height="0.9" fill="#444" opacity="0.55"/><rect x="967.5" y="186.33" width="2.3" height="0.9" fill="#666" opacity="0.4"/><rect x="980" y="186.33" width="2.1" height="0.9" fill="#333" opacity="0.6"/><rect x="982.9" y="186.03" width="1.9" height="1.3" fill="#3f8cf0" opacity="0.85"/><rect x="992.6" y="186.33" width="1.2" height="0.9" fill="#777" opacity="0.35"/><rect x="1005.2" y="186.33" width="2.4" height="0.9" fill="#444" opacity="0.55"/><rect x="1018" y="186.33" width="4.8" height="0.9" fill="#4a8cec" opacity="0.8"/><rect x="887.8" y="192.11" width="138.3" height="0.25" fill="#eceef2"/><rect x="890" y="189.91" width="2" height="0.9" fill="#444" opacity="0.432"/><rect x="900" y="189.91" width="12.1" height="0.9" fill="#e8505a" opacity="0.576"/><rect x="915.2" y="189.91" width="6.7" height="0.9" fill="#f5a052" opacity="0.612"/><rect x="927" y="189.91" width="1.9" height="0.9" fill="#444" opacity="0.432"/><rect x="938" y="189.91" width="8.8" height="0.9" fill="#444" opacity="0.396"/><rect x="952" y="189.91" width="9" height="0.9" fill="#444" opacity="0.396"/><rect x="967.5" y="189.91" width="2.3" height="0.9" fill="#666" opacity="0.288"/><rect x="980" y="189.91" width="2.1" height="0.9" fill="#333" opacity="0.432"/><rect x="982.9" y="189.61" width="1.9" height="1.3" fill="#3f8cf0" opacity="0.612"/><rect x="992.6" y="189.91" width="1.2" height="0.9" fill="#777" opacity="0.252"/><rect x="1005.2" y="189.91" width="2.4" height="0.9" fill="#444" opacity="0.396"/><rect x="1018" y="189.91" width="4.8" height="0.9" fill="#4a8cec" opacity="0.576"/><rect x="887.8" y="195.69" width="138.3" height="0.25" fill="#eceef2"/><rect x="890" y="193.49" width="2" height="0.9" fill="#444" opacity="0.6"/><rect x="900" y="193.49" width="12.1" height="0.9" fill="#e8505a" opacity="0.8"/><rect x="915.2" y="193.49" width="6.7" height="0.9" fill="#f5a052" opacity="0.85"/><rect x="927" y="193.49" width="1.9" height="0.9" fill="#444" opacity="0.6"/><rect x="938" y="193.49" width="8.8" height="0.9" fill="#444" opacity="0.55"/><rect x="952" y="193.49" width="9" height="0.9" fill="#444" opacity="0.55"/><rect x="967.5" y="193.49" width="2.3" height="0.9" fill="#666" opacity="0.4"/><rect x="980" y="193.49" width="2.1" height="0.9" fill="#333" opacity="0.6"/><rect x="982.9" y="193.19" width="1.9" height="1.3" fill="#3f8cf0" opacity="0.85"/><rect x="992.6" y="193.49" width="1.2" height="0.9" fill="#777" opacity="0.35"/><rect x="1005.2" y="193.49" width="2.4" height="0.9" fill="#444" opacity="0.55"/><rect x="1018" y="193.49" width="4.8" height="0.9" fill="#4a8cec" opacity="0.8"/><rect x="887.8" y="199.27" width="138.3" height="0.25" fill="#eceef2"/><rect x="890" y="197.07" width="2" height="0.9" fill="#444" opacity="0.432"/><rect x="900" y="197.07" width="12.1" height="0.9" fill="#e8505a" opacity="0.576"/><rect x="915.2" y="197.07" width="6.7" height="0.9" fill="#f5a052" opacity="0.612"/><rect x="927" y="197.07" width="1.9" height="0.9" fill="#444" opacity="0.432"/><rect x="938" y="197.07" width="8.8" height="0.9" fill="#444" opacity="0.396"/><rect x="952" y="197.07" width="9" height="0.9" fill="#444" opacity="0.396"/><rect x="967.5" y="197.07" width="2.3" height="0.9" fill="#666" opacity="0.288"/><rect x="980" y="197.07" width="2.1" height="0.9" fill="#333" opacity="0.432"/><rect x="982.9" y="196.77" width="1.9" height="1.3" fill="#3f8cf0" opacity="0.612"/><rect x="992.6" y="197.07" width="1.2" height="0.9" fill="#777" opacity="0.252"/><rect x="1005.2" y="197.07" width="2.4" height="0.9" fill="#444" opacity="0.396"/><rect x="1018" y="197.07" width="4.8" height="0.9" fill="#4a8cec" opacity="0.576"/><rect x="889.5" y="200.8" width="7" height="0.8" fill="#777" opacity="0.5"/><rect x="897" y="200.8" width="2.5" height="0.8" fill="#5b9be8" opacity="0.6"/><rect x="900" y="200.8" width="3" height="0.8" fill="#777" opacity="0.5"/><rect x="905" y="199.8" width="9.6" height="2.6" fill="#fff" stroke="#e0e2e8" stroke-width="0.3"/><rect x="906.5" y="200.8" width="3.5" height="0.8" fill="#666" opacity="0.5"/><rect x="912.5" y="200.9" width="0.9" height="0.6" fill="#888" opacity="0.5"/><rect x="974.5" y="200.7" width="2.2" height="0.9" fill="#8a9bb5" opacity="0.45"/><rect x="977.5" y="200.7" width="2.2" height="0.9" fill="#8a9bb5" opacity="0.45"/><rect x="982" y="200.7" width="1.6" height="0.9" fill="#8a9bb5" opacity="0.45"/><rect x="985.8" y="200.7" width="1.6" height="0.9" fill="#8a9bb5" opacity="0.45"/><rect x="989.5" y="200.7" width="1.6" height="0.9" fill="#8a9bb5" opacity="0.45"/><rect x="993.2" y="200.7" width="1.6" height="0.9" fill="#8a9bb5" opacity="0.45"/><rect x="996.8" y="200.7" width="1.6" height="0.9" fill="#8a9bb5" opacity="0.45"/><rect x="1004.3" y="200.7" width="1.6" height="0.9" fill="#8a9bb5" opacity="0.45"/><rect x="1008" y="200.7" width="1.6" height="0.9" fill="#8a9bb5" opacity="0.45"/><rect x="1012" y="200.7" width="2.2" height="0.9" fill="#8a9bb5" opacity="0.45"/><rect x="1015.5" y="200.7" width="2.2" height="0.9" fill="#8a9bb5" opacity="0.45"/><rect x="1020.5" y="200.7" width="1.6" height="0.9" fill="#8a9bb5" opacity="0.45"/><rect x="1022.8" y="200.7" width="1.6" height="0.9" fill="#8a9bb5" opacity="0.45"/><rect x="999" y="199.9" width="3.4" height="2.9" fill="#1a6fd6" rx="0.3"/><rect x="1026.2" y="133" width="1" height="70.5" fill="#ececec"/></g><rect x="864.5" y="231.2" width="166.2" height="83.2" fill="#c3d0f3" opacity="0.62" rx="2.5" filter="url(#fglow)"/><rect x="865.7" y="232.2" width="163.8" height="80.6" fill="#ffffff" rx="1.6"/><g filter="url(#soft)"><rect x="868" y="234.5" width="159.1" height="76.3" fill="#edf1f6"/><rect x="868" y="234.5" width="159.1" height="7.9" fill="#1b6fd3"/><polygon points="928,234.5 968,234.5 963,238.6 933,238.6" fill="#1763c2" opacity="0.8"/><rect x="940.5" y="235.6" width="1.8" height="1.4" fill="#dfeaf8" opacity="0.9"/><rect x="943.5" y="235.7" width="10.5" height="1.2" fill="#f0f5fc" opacity="0.9"/><rect x="911.3" y="239.2" width="15.5" height="3.3" fill="#eef2f8" rx="0.4"/><rect x="914.8" y="240.1" width="1" height="1.3" fill="#2f7ad8" opacity="0.9"/><rect x="916.6" y="240.3" width="7" height="0.9" fill="#2f6fc8" opacity="0.75"/><rect x="933" y="240.2" width="0.9" height="0.9" fill="#fff" opacity="0.8"/><rect x="934.8" y="240.2" width="6" height="0.9" fill="#fff" opacity="0.7"/><rect x="951" y="240.2" width="8" height="0.9" fill="#fff" opacity="0.7"/><rect x="969.2" y="240.2" width="8.4" height="0.9" fill="#fff" opacity="0.65"/><rect x="876.2" y="251.5" width="0.5" height="59" fill="#dfe4ec"/><rect x="871.7" y="245" width="9" height="6" fill="#e03149" rx="1.3"/><rect x="874.5" y="247" width="3.4" height="2" fill="#fbe3e6" opacity="0.9"/><rect x="873" y="252.6" width="6.3" height="0.8" fill="#333" opacity="0.7"/><rect x="871.7" y="273.2" width="9" height="5.7" fill="#f18a2e" rx="1.3"/><rect x="874.3" y="275" width="3.8" height="2" fill="#fde8d2" opacity="0.9"/><rect x="873" y="280.2" width="6.3" height="0.8" fill="#444" opacity="0.6"/><rect x="885" y="243.8" width="136.5" height="27.3" fill="#fff"/><rect x="889" y="245.9" width="2" height="1.3" fill="#e8404a"/><rect x="892" y="246.1" width="7.5" height="0.9" fill="#222" opacity="0.8"/><rect x="889" y="249" width="13.3" height="11.8" fill="#b9bcc0"/><ellipse cx="895.6" cy="254.6" rx="3.6" ry="4.3" fill="#d9b9a6"/><path d="M891.6 254 C891.2 249.6 900 249.4 899.8 254 C899 251.8 892.6 251.8 891.6 254Z" fill="#2a2522"/><rect x="893.2" y="253.6" width="4.8" height="0.6" fill="#3a3330" opacity="0.6"/><path d="M889 260.8 V259.4 C891 258 893 257.8 895.6 258.6 C898 257.8 900.4 258 902.3 259.4 V260.8Z" fill="#2b2b2b"/><rect x="905.4" y="249.05" width="3.5" height="0.9" fill="#222" opacity="0.8"/><rect x="915.9" y="249.05" width="3.3" height="0.9" fill="#555" opacity="0.55"/><rect x="931" y="249.05" width="6.6" height="0.9" fill="#222" opacity="0.75"/><rect x="941.8" y="249.05" width="17" height="0.9" fill="#777" opacity="0.45"/><rect x="961.2" y="249.05" width="3.4" height="0.9" fill="#222" opacity="0.8"/><rect x="971.8" y="249.05" width="3" height="0.9" fill="#777" opacity="0.45"/><rect x="991.8" y="249.05" width="4.6" height="0.9" fill="#222" opacity="0.75"/><rect x="1002" y="249.05" width="3" height="0.9" fill="#666" opacity="0.5"/><rect x="905.4" y="252.25" width="3.5" height="0.9" fill="#222" opacity="0.8"/><rect x="915.9" y="252.25" width="1" height="0.9" fill="#555" opacity="0.55"/><rect x="931" y="252.25" width="4.8" height="0.9" fill="#222" opacity="0.75"/><rect x="941.8" y="252.25" width="3" height="0.9" fill="#777" opacity="0.45"/><rect x="961.2" y="252.25" width="6.6" height="0.9" fill="#222" opacity="0.8"/><rect x="971.8" y="252.25" width="7.2" height="0.9" fill="#777" opacity="0.45"/><rect x="991.8" y="252.25" width="3" height="0.9" fill="#222" opacity="0.75"/><rect x="1002" y="252.25" width="3" height="0.9" fill="#666" opacity="0.5"/><rect x="905" y="254.25" width="114" height="0.2" fill="#eef0f3"/><rect x="905.4" y="255.95" width="6.6" height="0.9" fill="#222" opacity="0.8"/><rect x="915.9" y="255.95" width="3" height="0.9" fill="#555" opacity="0.55"/><rect x="931" y="255.95" width="6.6" height="0.9" fill="#222" opacity="0.75"/><rect x="941.8" y="255.95" width="14" height="0.9" fill="#777" opacity="0.45"/><rect x="961.2" y="255.95" width="6.6" height="0.9" fill="#222" opacity="0.8"/><rect x="971.8" y="255.95" width="6" height="0.9" fill="#777" opacity="0.45"/><rect x="991.8" y="255.95" width="3" height="0.9" fill="#222" opacity="0.75"/><rect x="1002" y="255.95" width="3" height="0.9" fill="#666" opacity="0.5"/><rect x="905" y="257.95" width="114" height="0.2" fill="#eef0f3"/><rect x="905.4" y="259.15" width="6.6" height="0.9" fill="#222" opacity="0.8"/><rect x="905" y="261.15" width="114" height="0.2" fill="#eef0f3"/><rect x="905.4" y="262.55" width="3.5" height="0.9" fill="#222" opacity="0.8"/><rect x="905" y="264.55" width="114" height="0.2" fill="#eef0f3"/><rect x="905.4" y="265.95" width="9.5" height="0.9" fill="#222" opacity="0.8"/><rect x="918.4" y="252.1" width="1.7" height="1.4" fill="#5b9bf0" opacity="0.9"/><rect x="920" y="255.8" width="1.8" height="1.3" fill="#f5b040" opacity="0.9"/><rect x="1005.8" y="252" width="1.4" height="1.7" fill="#e8505a" opacity="0.9"/><rect x="1005.8" y="255.7" width="1.4" height="1.6" fill="#2fae9a" opacity="0.9"/><rect x="1009" y="256" width="9" height="0.8" fill="#3f8ad8" opacity="0.7"/><rect x="947.7" y="255.8" width="1.8" height="1.3" fill="#f5b040" opacity="0.9"/><rect x="915.9" y="259.2" width="28" height="0.9" fill="#666" opacity="0.5"/><rect x="946" y="258.9" width="2" height="1.4" fill="#2fae9a" opacity="0.85"/><rect x="953.6" y="259.2" width="9.2" height="0.9" fill="#2f7ac8" opacity="0.7"/><rect x="915.9" y="262.6" width="28" height="0.9" fill="#888" opacity="0.4"/><rect x="946" y="262.3" width="2" height="1.4" fill="#6fc4b4" opacity="0.8"/><rect x="954" y="262.6" width="8.8" height="0.9" fill="#5b9bd8" opacity="0.55"/><rect x="915.9" y="266" width="20.5" height="0.9" fill="#3f7fc0" opacity="0.7"/><rect x="938" y="266" width="3.4" height="0.9" fill="#3f7fc0" opacity="0.55"/><rect x="942.5" y="266" width="4" height="0.9" fill="#3f7fc0" opacity="0.55"/><rect x="948.6" y="266" width="5" height="0.9" fill="#3f7fc0" opacity="0.55"/><rect x="956" y="266" width="11.5" height="0.9" fill="#2f5f9a" opacity="0.7"/><rect x="969.2" y="266" width="11.7" height="0.9" fill="#3f7fc0" opacity="0.6"/><rect x="885" y="272.9" width="136.5" height="36" fill="#fff"/><rect x="889" y="274.1" width="2" height="1.2" fill="#f5902e"/><rect x="892" y="274.3" width="7.4" height="0.9" fill="#222" opacity="0.75"/><rect x="889.1" y="277.1" width="130" height="2.6" fill="#e5ebf8"/><rect x="891.6" y="277.8" width="1.3" height="1.2" fill="#f5902e" opacity="0.9"/><rect x="894" y="278" width="6.8" height="0.9" fill="#222" opacity="0.75"/><rect x="891.2" y="281.1" width="8.8" height="1.9" fill="#d3e3f8" rx="0.6"/><rect x="892.6" y="281.65" width="6" height="0.8" fill="#2f6fc8" opacity="0.8"/><rect x="901.67" y="281.1" width="8.8" height="1.9" fill="#d3e3f8" rx="0.6"/><rect x="903.07" y="281.65" width="6" height="0.8" fill="#2f6fc8" opacity="0.8"/><rect x="912.14" y="281.1" width="8.8" height="1.9" fill="#d3e3f8" rx="0.6"/><rect x="913.54" y="281.65" width="6" height="0.8" fill="#2f6fc8" opacity="0.8"/><rect x="922.61" y="281.1" width="8.8" height="1.9" fill="#d3e3f8" rx="0.6"/><rect x="924.01" y="281.65" width="6" height="0.8" fill="#2f6fc8" opacity="0.8"/><rect x="933.08" y="281.1" width="8.8" height="1.9" fill="#d3e3f8" rx="0.6"/><rect x="934.48" y="281.65" width="6" height="0.8" fill="#2f6fc8" opacity="0.8"/><rect x="943.55" y="281.1" width="8.8" height="1.9" fill="#d3e3f8" rx="0.6"/><rect x="944.95" y="281.65" width="6" height="0.8" fill="#2f6fc8" opacity="0.8"/><rect x="954.02" y="281.1" width="8.8" height="1.9" fill="#d3e3f8" rx="0.6"/><rect x="955.42" y="281.65" width="6" height="0.8" fill="#2f6fc8" opacity="0.8"/><rect x="964.49" y="281.1" width="8.8" height="1.9" fill="#d3e3f8" rx="0.6"/><rect x="965.89" y="281.65" width="6" height="0.8" fill="#2f6fc8" opacity="0.8"/><rect x="889.1" y="285.9" width="130" height="2.7" fill="#e5ebf8"/><rect x="891.6" y="286.6" width="1.1" height="1.4" fill="#f5902e" opacity="0.9"/><rect x="894" y="286.9" width="9.5" height="0.9" fill="#222" opacity="0.75"/><rect x="889.1" y="288.8" width="130" height="18.4" fill="none" stroke="#eceff4" stroke-width="0.3"/><rect x="891.2" y="290.3" width="10.5" height="0.9" fill="#555" opacity="0.55"/><rect x="947.7" y="289.9" width="32.1" height="2.8" fill="#fff" stroke="#e6e8ee" stroke-width="0.3"/><rect x="950.2" y="290.9" width="0.8" height="0.9" fill="#e8505a" opacity="0.9"/><rect x="951.8" y="290.95" width="3.2" height="0.8" fill="#777" opacity="0.45"/><rect x="960" y="290.9" width="0.8" height="0.9" fill="#5b9bf0" opacity="0.9"/><rect x="961.6" y="290.95" width="3" height="0.8" fill="#777" opacity="0.45"/><rect x="969.2" y="290.9" width="0.8" height="0.9" fill="#35c4b4" opacity="0.9"/><rect x="970.8" y="290.95" width="6.6" height="0.8" fill="#777" opacity="0.45"/><rect x="892" y="293.3" width="1.4" height="0.8" fill="#777" opacity="0.4"/><rect x="895" y="293.7" width="85" height="0.2" fill="#eef0f3"/><rect x="892" y="296.1" width="1.4" height="0.8" fill="#777" opacity="0.4"/><rect x="895" y="296.5" width="85" height="0.2" fill="#eef0f3"/><rect x="892" y="299" width="1.4" height="0.8" fill="#777" opacity="0.4"/><rect x="895" y="299.4" width="85" height="0.2" fill="#eef0f3"/><rect x="892" y="301.6" width="1.4" height="0.8" fill="#777" opacity="0.4"/><rect x="895" y="302" width="85" height="0.2" fill="#eef0f3"/><rect x="892" y="304.4" width="1.4" height="0.8" fill="#777" opacity="0.4"/><rect x="895" y="304.8" width="85" height="0.2" fill="#eef0f3"/><rect x="895" y="305" width="85" height="0.3" fill="#d5d9e0"/><rect x="898.3" y="303.3" width="2.9" height="1.7" fill="#ee4b5a"/><rect x="904.8" y="296.8" width="2.6" height="8.2" fill="#1f60c4"/><rect x="910.3" y="304" width="2.9" height="1" fill="#2fd0c0"/><rect x="928" y="302.9" width="3" height="2.1" fill="#ee4b5a"/><rect x="934.1" y="298" width="2.9" height="7" fill="#2a68b8"/><rect x="940.3" y="302.9" width="3" height="2.1" fill="#2fd0c0"/><rect x="958.2" y="303.9" width="3" height="1.1" fill="#ee4b5a"/><rect x="964.7" y="300" width="2.5" height="5" fill="#1f60c4"/><rect x="970.6" y="304.2" width="3.2" height="0.8" fill="#2fd0c0"/><rect x="903.6" y="306.1" width="4.8" height="0.8" fill="#555" opacity="0.55"/><rect x="933.3" y="306.1" width="4.8" height="0.8" fill="#555" opacity="0.55"/><rect x="963.4" y="306.1" width="4.8" height="0.8" fill="#555" opacity="0.55"/><rect x="982.5" y="294.3" width="29.5" height="8.2" fill="#fff" stroke="#e3e5ea" stroke-width="0.4"/><rect x="982.4" y="294.3" width="0.5" height="8.2" fill="#b8bcc6" opacity="0.8"/><rect x="984" y="294.9" width="9.3" height="0.9" fill="#222" opacity="0.7"/><rect x="987.2" y="297.4" width="17.2" height="1.9" fill="#cfe0f7" rx="0.9"/><rect x="990.5" y="297.95" width="10.5" height="0.8" fill="#2f6fc8" opacity="0.75"/></g><rect x="864.8" y="343.6" width="166" height="88.4" fill="#c3d0f3" opacity="0.62" rx="2.5" filter="url(#fglow)"/><rect x="866" y="344.6" width="163.6" height="85.8" fill="#ffffff" rx="1.6"/><g filter="url(#soft)"><rect x="868.4" y="347" width="158.8" height="81" fill="#eef1f6"/><rect x="868.4" y="347" width="8.4" height="81" fill="#e7ecf3"/><rect x="868.4" y="347" width="158.8" height="8.9" fill="#1b72d8"/><polygon points="928,347 968,347 963,351.2 933,351.2" fill="#1661c0" opacity="0.9"/><rect x="941" y="348.2" width="1.8" height="1.4" fill="#dfeaf8" opacity="0.9"/><rect x="946" y="348.2" width="8.2" height="1.2" fill="#f0f5fc" opacity="0.9"/><rect x="930.1" y="352.9" width="14.9" height="3" fill="#f3f6fa" rx="0.4"/><rect x="933" y="353.9" width="9" height="0.9" fill="#2f74d0" opacity="0.7"/><rect x="915" y="353.9" width="8" height="0.9" fill="#fff" opacity="0.75"/><rect x="951.5" y="353.7" width="1.2" height="1.2" fill="#fff" opacity="0.8"/><rect x="953.5" y="353.9" width="6.2" height="0.9" fill="#fff" opacity="0.6"/><rect x="969.8" y="353.7" width="1.2" height="1.2" fill="#fff" opacity="0.8"/><rect x="971.8" y="353.9" width="6.2" height="0.9" fill="#fff" opacity="0.65"/><rect x="877.2" y="357.5" width="142.2" height="69" fill="#fff"/><rect x="880.3" y="360" width="2.5" height="2.1" fill="#3a8ae8"/><rect x="884" y="360.5" width="17.2" height="1.1" fill="#666" opacity="0.6"/><rect x="880.3" y="363.3" width="130.7" height="4.2" fill="#e9eefa"/><rect x="883" y="364.9" width="1.8" height="1.1" fill="#3a8ae8" opacity="0.9"/><rect x="886" y="365" width="11" height="0.9" fill="#222" opacity="0.75"/><rect x="880.3" y="367.5" width="130.7" height="48" fill="none" stroke="#eef0f5" stroke-width="0.3"/><rect x="886.7" y="369.3" width="22.9" height="42.5" fill="#fff" stroke="#eceef3" stroke-width="0.35"/><circle cx="891.5" cy="373.3" r="1.55" fill="#c78ad0"/><rect x="895" y="372.85" width="6.6" height="0.9" fill="#444" opacity="0.6"/><rect x="903.2" y="372.85" width="4.2" height="0.9" fill="#4a9ad8" opacity="0.6"/><circle cx="891.5" cy="378.38" r="1.55" fill="#9868c8"/><rect x="895" y="377.93" width="6.6" height="0.9" fill="#444" opacity="0.6"/><rect x="903.2" y="377.93" width="2.6" height="0.9" fill="#4a9ad8" opacity="0.6"/><circle cx="891.5" cy="383.46" r="1.55" fill="#e27088"/><rect x="895" y="383.01" width="6.6" height="0.9" fill="#444" opacity="0.6"/><rect x="903.2" y="383.01" width="4.4" height="0.9" fill="#4a9ad8" opacity="0.6"/><circle cx="891.5" cy="388.54" r="1.55" fill="#d4ac3a"/><rect x="895" y="388.09" width="6.6" height="0.9" fill="#444" opacity="0.6"/><rect x="903.2" y="388.09" width="4.4" height="0.9" fill="#4a9ad8" opacity="0.6"/><circle cx="891.5" cy="393.62" r="1.55" fill="#52aa68"/><rect x="895" y="393.17" width="6.6" height="0.9" fill="#444" opacity="0.6"/><rect x="903.2" y="393.17" width="3" height="0.9" fill="#4a9ad8" opacity="0.6"/><circle cx="891.5" cy="398.7" r="1.55" fill="#40a0a2"/><rect x="895" y="398.25" width="6.6" height="0.9" fill="#444" opacity="0.6"/><rect x="903.2" y="398.25" width="2.6" height="0.9" fill="#4a9ad8" opacity="0.6"/><circle cx="891.5" cy="403.78" r="1.55" fill="#72a8f0"/><rect x="895" y="403.33" width="6.6" height="0.9" fill="#444" opacity="0.6"/><rect x="903.2" y="403.33" width="4.2" height="0.9" fill="#4a9ad8" opacity="0.6"/><circle cx="891.5" cy="408.86" r="1.55" fill="#e98a58"/><rect x="895" y="408.41" width="6.6" height="0.9" fill="#444" opacity="0.6"/><rect x="903.2" y="408.41" width="4.4" height="0.9" fill="#4a9ad8" opacity="0.6"/><rect x="920.6" y="373.6" width="85" height="0.2" fill="#eceef2"/><rect x="917.2" y="373.2" width="1.2" height="0.8" fill="#777" opacity="0.4"/><rect x="920.6" y="376.55" width="85" height="0.2" fill="#eceef2"/><rect x="917.2" y="376.15" width="1.2" height="0.8" fill="#777" opacity="0.4"/><rect x="920.6" y="379.5" width="85" height="0.2" fill="#eceef2"/><rect x="917.2" y="379.1" width="1.2" height="0.8" fill="#777" opacity="0.4"/><rect x="920.6" y="382.45" width="85" height="0.2" fill="#eceef2"/><rect x="917.2" y="382.05" width="1.2" height="0.8" fill="#777" opacity="0.4"/><rect x="920.6" y="385.4" width="85" height="0.2" fill="#eceef2"/><rect x="917.2" y="385" width="1.2" height="0.8" fill="#777" opacity="0.4"/><rect x="920.6" y="388.35" width="85" height="0.2" fill="#eceef2"/><rect x="917.2" y="387.95" width="1.2" height="0.8" fill="#777" opacity="0.4"/><rect x="920.6" y="391.3" width="85" height="0.2" fill="#eceef2"/><rect x="917.2" y="390.9" width="1.2" height="0.8" fill="#777" opacity="0.4"/><rect x="920.6" y="394.25" width="85" height="0.2" fill="#eceef2"/><rect x="917.2" y="393.85" width="1.2" height="0.8" fill="#777" opacity="0.4"/><rect x="920.6" y="397.2" width="85" height="0.2" fill="#eceef2"/><rect x="917.2" y="396.8" width="1.2" height="0.8" fill="#777" opacity="0.4"/><rect x="920.6" y="400.15" width="85" height="0.2" fill="#eceef2"/><rect x="917.2" y="399.75" width="1.2" height="0.8" fill="#777" opacity="0.4"/><rect x="920.6" y="403.1" width="85" height="0.2" fill="#eceef2"/><rect x="917.2" y="402.7" width="1.2" height="0.8" fill="#777" opacity="0.4"/><rect x="920.6" y="406.05" width="85" height="0.2" fill="#eceef2"/><rect x="917.2" y="405.65" width="1.2" height="0.8" fill="#777" opacity="0.4"/><rect x="920.4" y="372" width="0.3" height="34" fill="#d9dce3"/><rect x="927.45" y="372" width="0.35" height="34" fill="#dcdfe6"/><rect x="925" y="406.8" width="5.2" height="0.8" fill="#777" opacity="0.45"/><rect x="938.55" y="372" width="0.35" height="34" fill="#dcdfe6"/><rect x="936.1" y="406.8" width="5.2" height="0.8" fill="#777" opacity="0.45"/><rect x="947.15" y="372" width="0.35" height="34" fill="#dcdfe6"/><rect x="944.7" y="406.8" width="5.2" height="0.8" fill="#777" opacity="0.45"/><rect x="956.35" y="372" width="0.35" height="34" fill="#dcdfe6"/><rect x="953.9" y="406.8" width="5.2" height="0.8" fill="#777" opacity="0.45"/><rect x="965.15" y="372" width="0.35" height="34" fill="#dcdfe6"/><rect x="962.7" y="406.8" width="5.2" height="0.8" fill="#777" opacity="0.45"/><rect x="974.05" y="372" width="0.35" height="34" fill="#dcdfe6"/><rect x="971.6" y="406.8" width="5.2" height="0.8" fill="#777" opacity="0.45"/><rect x="982.55" y="372" width="0.35" height="34" fill="#dcdfe6"/><rect x="980.1" y="406.8" width="5.2" height="0.8" fill="#777" opacity="0.45"/><rect x="991.35" y="372" width="0.35" height="34" fill="#dcdfe6"/><rect x="988.9" y="406.8" width="5.2" height="0.8" fill="#777" opacity="0.45"/><rect x="1000.35" y="372" width="0.35" height="34" fill="#dcdfe6"/><rect x="997.9" y="406.8" width="5.2" height="0.8" fill="#777" opacity="0.45"/><rect x="920.4" y="406" width="85.5" height="0.3" fill="#d0d4dc"/><ellipse cx="927.6" cy="388.6" rx="1.6" ry="1.35" fill="#c78ad0"/><ellipse cx="927.6" cy="395.4" rx="1.6" ry="1.35" fill="#e27088"/><ellipse cx="927.6" cy="397.2" rx="1.6" ry="1.35" fill="#d4ac3a"/><ellipse cx="938.7" cy="386.3" rx="1.6" ry="1.35" fill="#c78ad0"/><ellipse cx="938.7" cy="400.3" rx="1.6" ry="1.35" fill="#52aa68"/><ellipse cx="947.3" cy="381.5" rx="1.6" ry="1.35" fill="#c78ad0"/><ellipse cx="947.3" cy="385.6" rx="1.6" ry="1.35" fill="#d4ac3a"/><ellipse cx="947.3" cy="395.9" rx="1.6" ry="1.35" fill="#e98a58"/><ellipse cx="947.3" cy="405.2" rx="1.6" ry="1.35" fill="#9868c8"/><ellipse cx="956.5" cy="383.6" rx="1.6" ry="1.35" fill="#e98a58"/><ellipse cx="956.5" cy="386.6" rx="1.6" ry="1.35" fill="#c78ad0"/><ellipse cx="956.5" cy="398" rx="1.6" ry="1.35" fill="#d4ac3a"/><ellipse cx="956.5" cy="401.1" rx="1.6" ry="1.35" fill="#9868c8"/><ellipse cx="965.3" cy="397.1" rx="1.6" ry="1.35" fill="#e98a58"/><ellipse cx="974.2" cy="376.2" rx="1.6" ry="1.35" fill="#40a0a2"/><ellipse cx="974.2" cy="382.3" rx="1.6" ry="1.35" fill="#e98a58"/><ellipse cx="974.2" cy="397.1" rx="1.6" ry="1.35" fill="#9868c8"/><ellipse cx="982.7" cy="390" rx="1.6" ry="1.35" fill="#52aa68"/><ellipse cx="991.5" cy="378.1" rx="1.6" ry="1.35" fill="#52aa68"/><ellipse cx="991.5" cy="383.5" rx="1.6" ry="1.35" fill="#72a8f0"/><ellipse cx="991.5" cy="386.8" rx="1.6" ry="1.35" fill="#e98a58"/><ellipse cx="1000.5" cy="386.8" rx="1.6" ry="1.35" fill="#c78ad0"/><ellipse cx="1000.5" cy="390.4" rx="1.6" ry="1.35" fill="#72a8f0"/><ellipse cx="1000.5" cy="394.4" rx="1.6" ry="1.35" fill="#d4ac3a"/><rect x="959.1" y="382.1" width="19.9" height="11.6" fill="#333" opacity="0.93" rx="0.4"/><rect x="960.6" y="383.3" width="7.5" height="0.8" fill="#fff" opacity="0.65"/><rect x="960.4" y="385.65" width="0.7" height="0.7" fill="#e98a58" opacity="0.9"/><rect x="962" y="385.6" width="5.6" height="0.8" fill="#fff" opacity="0.8"/><rect x="968.8" y="385.6" width="0.8" height="0.8" fill="#fff" opacity="0.6"/><rect x="960.4" y="387.6" width="0.7" height="0.7" fill="#c78ad0" opacity="0.9"/><rect x="962" y="387.55" width="5.6" height="0.8" fill="#fff" opacity="0.8"/><rect x="968.8" y="387.55" width="0.8" height="0.8" fill="#fff" opacity="0.6"/><rect x="960.4" y="389.55" width="0.7" height="0.7" fill="#d4ac3a" opacity="0.9"/><rect x="962" y="389.5" width="5.6" height="0.8" fill="#fff" opacity="0.8"/><rect x="968.8" y="389.5" width="0.8" height="0.8" fill="#fff" opacity="0.6"/><rect x="960.4" y="391.5" width="0.7" height="0.7" fill="#e98a58" opacity="0.9"/><rect x="962" y="391.45" width="5.6" height="0.8" fill="#fff" opacity="0.8"/><rect x="968.8" y="391.45" width="0.8" height="0.8" fill="#fff" opacity="0.6"/><rect x="921" y="410.5" width="84" height="1.2" fill="#e2e4e8" rx="0.6"/><rect x="921" y="410.5" width="10" height="1.2" fill="#d2d5da" rx="0.6"/><rect x="883.2" y="418" width="125.3" height="6" fill="#fff" stroke="#e5e7ec" stroke-width="0.35"/><rect x="883" y="418" width="0.6" height="6" fill="#b9bdc6" opacity="0.8"/><rect x="887.8" y="420.4" width="11.4" height="0.9" fill="#555" opacity="0.6"/><rect x="902" y="419.9" width="9.5" height="1.9" fill="#1561c2" rx="0.4"/><rect x="903.6" y="420.5" width="6.3" height="0.7" fill="#cfe0f8" opacity="0.7"/><rect x="913" y="419.9" width="9.2" height="1.9" fill="#1561c2" rx="0.4"/><rect x="914.6" y="420.5" width="6" height="0.7" fill="#cfe0f8" opacity="0.7"/><rect x="923.9" y="419.9" width="11.9" height="1.9" fill="#1561c2" rx="0.4"/><rect x="925.5" y="420.5" width="8.7" height="0.7" fill="#cfe0f8" opacity="0.7"/><rect x="937.2" y="419.9" width="9.5" height="1.9" fill="#1561c2" rx="0.4"/><rect x="938.8" y="420.5" width="6.3" height="0.7" fill="#cfe0f8" opacity="0.7"/><rect x="948" y="419.9" width="9.6" height="1.9" fill="#1561c2" rx="0.4"/><rect x="949.6" y="420.5" width="6.4" height="0.7" fill="#cfe0f8" opacity="0.7"/><rect x="961.7" y="420.4" width="9.2" height="0.9" fill="#6fa8d8" opacity="0.6"/></g></svg>
<svg class="abs" style="left:840px;top:255px" width="40" height="45" viewBox="840 255 40 45"><linearGradient id="gd" gradientUnits="userSpaceOnUse" x1="846.5" y1="0" x2="859.1" y2="0"><stop offset="0" stop-color="#5a9bfb" stop-opacity="0"/><stop offset="1" stop-color="#5498fc" stop-opacity="1"/></linearGradient><rect x="846.5" y="269.3" width="12.900000000000023" height="16.4" fill="url(#gd)"/><polygon points="859.1,261.2 868,277.5 859.1,293.8" fill="#5297fd"/></svg>
<div class="cap" style="top:208.0px">超级搜索</div>
<div class="cap" style="top:318.5px">人员档案</div>
<div class="cap" style="top:436.5px">通联分析</div>
</body></html>
